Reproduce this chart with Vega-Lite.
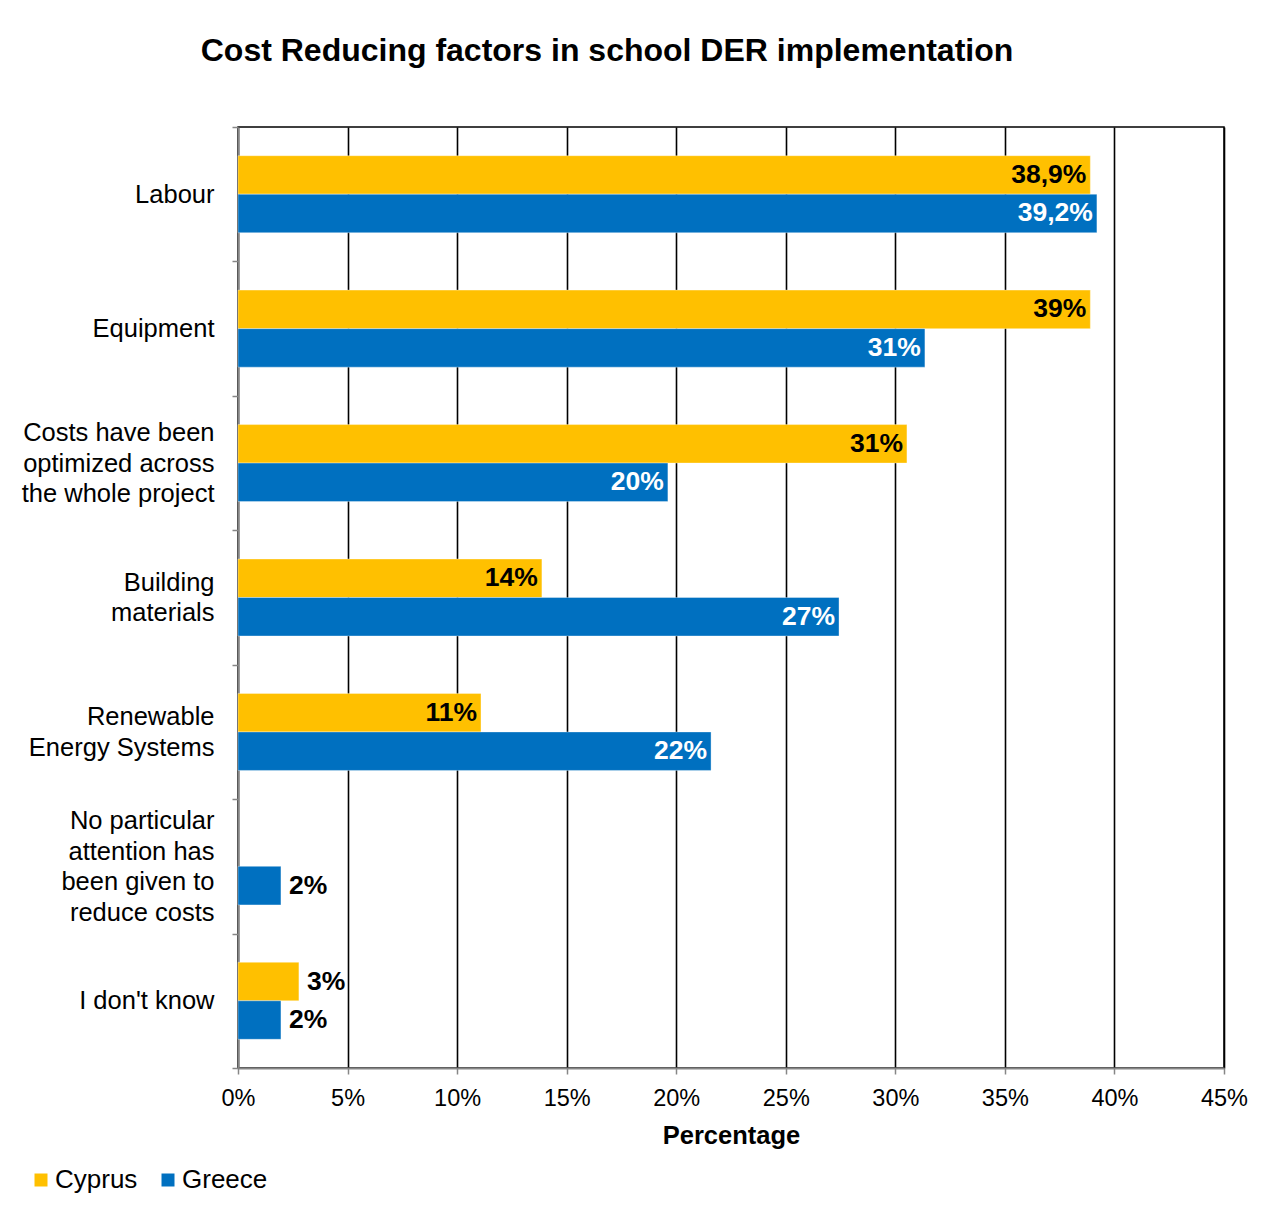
{
  "$schema": "https://vega.github.io/schema/vega-lite/v6.json",
  "width": 986,
  "height": 941,
  "autosize": {"type": "none"},
  "padding": {"left": 238, "top": 127, "right": 62, "bottom": 149},
  "background": "white",
  "config": {
    "font": "Liberation Sans",
    "view": {"stroke": "#000000", "strokeWidth": 1.5}
  },
  "title": {
    "text": "Cost Reducing factors in school DER implementation",
    "fontSize": 32,
    "fontWeight": "bold",
    "color": "#000000",
    "anchor": "middle",
    "dx": -124,
    "baseline": "alphabetic",
    "offset": 22
  },
  "data": {
    "values": [
      {"factor": "Labour", "country": "Cyprus", "value": 38.9, "label": "38,9%"},
      {"factor": "Labour", "country": "Greece", "value": 39.2, "label": "39,2%"},
      {"factor": "Equipment", "country": "Cyprus", "value": 38.9, "label": "39%"},
      {"factor": "Equipment", "country": "Greece", "value": 31.35, "label": "31%"},
      {"factor": "Costs have been|optimized across|the whole project", "country": "Cyprus", "value": 30.53, "label": "31%"},
      {"factor": "Costs have been|optimized across|the whole project", "country": "Greece", "value": 19.62, "label": "20%"},
      {"factor": "Building|materials", "country": "Cyprus", "value": 13.87, "label": "14%"},
      {"factor": "Building|materials", "country": "Greece", "value": 27.43, "label": "27%"},
      {"factor": "Renewable|Energy Systems", "country": "Cyprus", "value": 11.09, "label": "11%"},
      {"factor": "Renewable|Energy Systems", "country": "Greece", "value": 21.59, "label": "22%"},
      {"factor": "No particular|attention has|been given to|reduce costs", "country": "Greece", "value": 1.96, "label": "2%"},
      {"factor": "I don't know", "country": "Cyprus", "value": 2.78, "label": "3%"},
      {"factor": "I don't know", "country": "Greece", "value": 1.96, "label": "2%"}
    ]
  },
  "encoding": {
    "y": {
      "field": "factor",
      "type": "nominal",
      "sort": [
        "Labour",
        "Equipment",
        "Costs have been|optimized across|the whole project",
        "Building|materials",
        "Renewable|Energy Systems",
        "No particular|attention has|been given to|reduce costs",
        "I don't know"
      ],
      "scale": {"paddingInner": 0, "paddingOuter": 0},
      "axis": {
        "title": null,
        "tickBand": "extent",
        "tickSize": 6,
        "tickColor": "#868686",
        "tickWidth": 1.5,
        "domainColor": "#868686",
        "domainWidth": 2,
        "labelExpr": "split(datum.label, '|')",
        "labelFontSize": 25.5,
        "labelLineHeight": 30.5,
        "labelColor": "#000000",
        "labelAlign": "right",
        "labelBaseline": "middle",
        "labelOffset": {"expr": "-(length(split(datum.value, '|')) - 1) * 15.25"},
        "labelPadding": 18,
        "labelLimit": 0,
        "grid": false
      }
    },
    "yOffset": {
      "field": "country",
      "type": "nominal",
      "sort": ["Cyprus", "Greece"],
      "scale": {"domain": ["Cyprus", "Greece"], "paddingInner": 0, "paddingOuter": 0.745}
    }
  },
  "layer": [
    {
      "mark": {"type": "bar", "stroke": "white", "strokeWidth": 0.6, "strokeOpacity": 0.6},
      "encoding": {
        "x": {
          "field": "value",
          "type": "quantitative",
          "scale": {"domain": [0, 45], "nice": false},
          "axis": {
            "values": [0, 5, 10, 15, 20, 25, 30, 35, 40, 45],
            "labelExpr": "datum.value + '%'",
            "labelFontSize": 23.5,
            "labelColor": "#000000",
            "labelPadding": 12,
            "labelFlush": false,
            "tickSize": 6,
            "tickColor": "#868686",
            "tickWidth": 1.5,
            "domainColor": "#868686",
            "domainWidth": 2,
            "grid": true,
            "gridColor": "#000000",
            "gridWidth": 1.6,
            "gridOpacity": 1,
            "title": "Percentage",
            "titleFontSize": 25.5,
            "titleFontWeight": "bold",
            "titleColor": "#000000",
            "titleBaseline": "alphabetic",
            "titleY": 75
          }
        },
        "color": {
          "field": "country",
          "type": "nominal",
          "sort": ["Cyprus", "Greece"],
          "scale": {"domain": ["Cyprus", "Greece"], "range": ["#FFC000", "#0070C0"]},
          "legend": {
            "title": null,
            "orient": "none",
            "direction": "horizontal",
            "legendX": -210,
            "legendY": 1040,
            "symbolType": "square",
            "symbolSize": 169,
            "symbolStrokeWidth": 0,
            "labelFontSize": 26,
            "labelColor": "#000000",
            "labelOffset": 1,
            "columnPadding": 17
          }
        }
      }
    },
    {
      "transform": [{"filter": "datum.value >= 5"}],
      "mark": {"type": "text", "align": "right", "baseline": "middle", "dx": -4, "fontSize": 26.5, "fontWeight": "bold"},
      "encoding": {
        "x": {"field": "value", "type": "quantitative"},
        "text": {"field": "label"},
        "color": {"condition": {"test": "datum.country === 'Greece'", "value": "#FFFFFF"}, "value": "#000000"}
      }
    },
    {
      "transform": [{"filter": "datum.value < 5"}],
      "mark": {"type": "text", "align": "left", "baseline": "middle", "dx": 8, "fontSize": 26.5, "fontWeight": "bold", "color": "#000000"},
      "encoding": {
        "x": {"field": "value", "type": "quantitative"},
        "text": {"field": "label"}
      }
    }
  ]
}
